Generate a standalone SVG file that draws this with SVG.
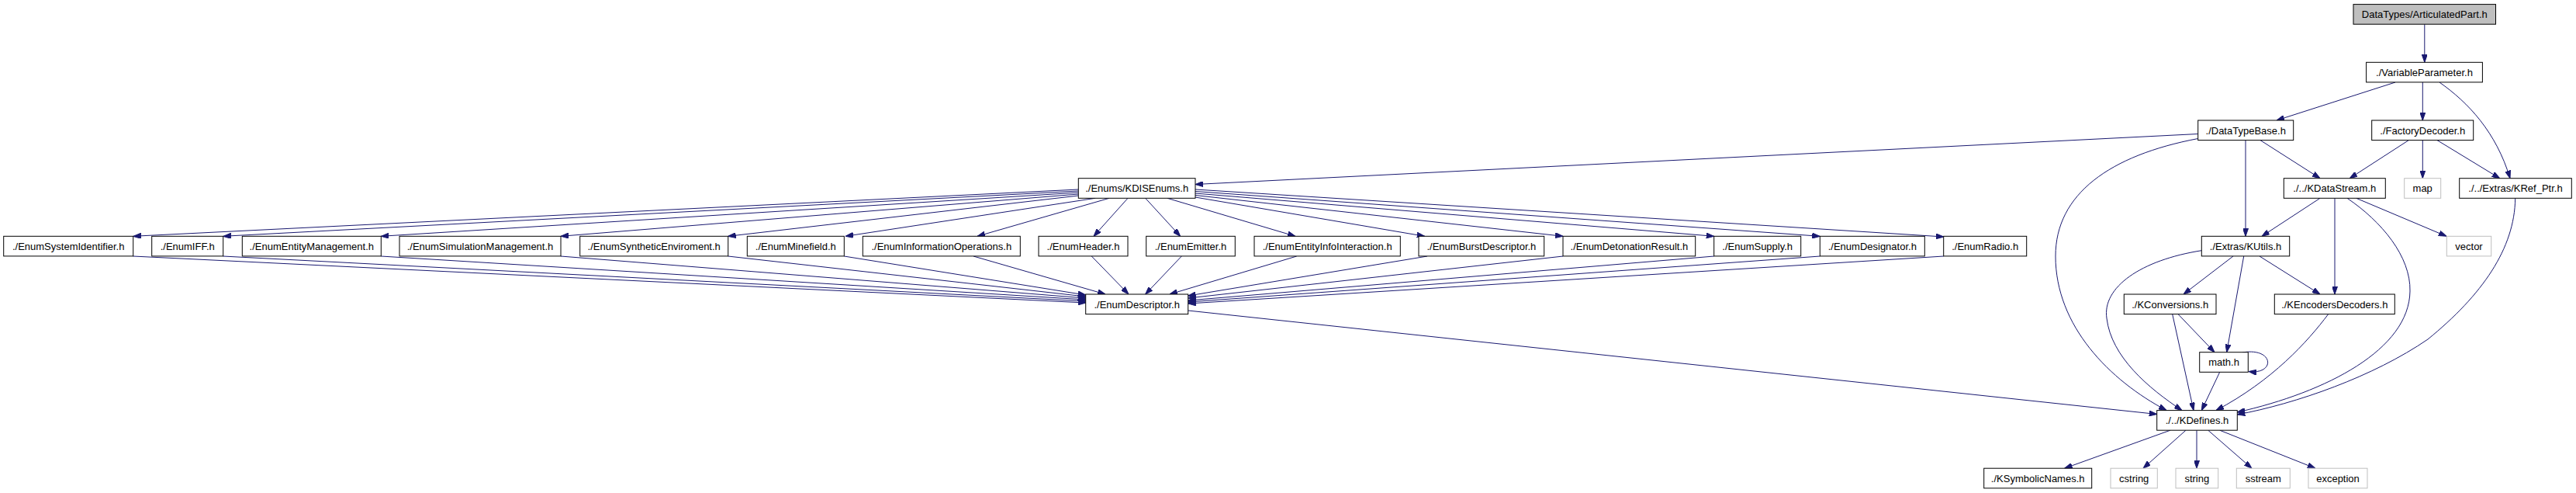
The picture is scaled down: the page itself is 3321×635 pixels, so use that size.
<svg xmlns="http://www.w3.org/2000/svg" width="3321" height="635" viewBox="0 0 3321 635">
<style>
.n rect{fill:#ffffff;stroke:#000000;stroke-width:1}
.n.root rect{fill:#bfbfbf}
.n.ext rect{stroke:#bfbfbf}
.n text{font-family:"Liberation Sans",Arial,sans-serif;font-size:13px;fill:#000000;text-anchor:middle}
#edges path{fill:none;stroke:#191970;stroke-width:1;marker-end:url(#ah)}
</style>
<defs>
<marker id="ah" markerWidth="10" markerHeight="7" refX="10" refY="3.5" orient="auto" markerUnits="userSpaceOnUse">
<path d="M0,0 L10,3.5 L0,7 z" fill="#191970" stroke="#191970" stroke-width="1"/>
</marker>
</defs>
<rect x="0" y="0" width="3321" height="635" fill="#ffffff"/>
<g id="edges">
<path d="M3125.8,31.2 L3125.8,80.3"/>
<path d="M3088,106 L2935,155"/>
<path d="M3123.3,106 L3123.3,155"/>
<path d="M3145,106 C3182,132 3218,170 3236,229.7"/>
<path d="M2833.7,172.5 L1541,237.5"/>
<path d="M2895,180.6 L2895,304.3"/>
<path d="M2914,180.6 L2991,229.7"/>
<path d="M2833.7,178.5 C2720,200 2650,250 2650,330 C2650,420 2720,490 2793,528.6"/>
<path d="M3105.3,180.6 L3029.3,229.7"/>
<path d="M3123.3,180.6 L3123.3,229.7"/>
<path d="M3142,180.6 L3222.7,229.7"/>
<path d="M2991,255.3 L2916,304.3"/>
<path d="M3010,255.3 L3010,379"/>
<path d="M3037.7,255.3 L3154,304.3"/>
<path d="M3026,255.3 C3070,285 3108,330 3107,375 C3106,450 3000,505 2884.3,531"/>
<path d="M3242.7,255.3 C3242,320 3200,380 3130,437 C3060,485 2960,520 2884.3,534"/>
<path d="M2879,330 L2815,379"/>
<path d="M2892.7,330 L2870.7,453.7"/>
<path d="M2913,330 L2991,379"/>
<path d="M2838.3,322.7 C2760,335 2710,370 2716,410 C2722,460 2770,500 2813,528.6"/>
<path d="M2808,404.6 L2855,453.7"/>
<path d="M2800.7,404.6 L2828,528.6"/>
<path d="M3001.7,404.6 C2975,440 2930,490 2857,528.6"/>
<path d="M2891,454 C2932,447 2934,483 2899,478.5"/>
<path d="M2861.7,479.3 L2838.3,528.6"/>
<path d="M2798,554.2 L2661.7,603.2"/>
<path d="M2818,554.2 L2763,603.2"/>
<path d="M2832,554.2 L2832,603.2"/>
<path d="M2846.7,554.2 L2903,603.2"/>
<path d="M2861.7,554.2 L2985,603.2"/>
<path d="M1531.7,400 L2780.7,533.5"/>
<path d="M1390.3,244 L171.7,304.3"/>
<path d="M1390.3,246 L287.7,304.3"/>
<path d="M1390.3,248 L491.3,304.3"/>
<path d="M1390.3,250 L723,304.3"/>
<path d="M1390.3,252 L938.7,304.3"/>
<path d="M1412,255.3 L1090,304.3"/>
<path d="M1430,255.3 L1260,304.3"/>
<path d="M1454,255.3 L1410,304.3"/>
<path d="M1476.7,255.3 L1521.7,304.3"/>
<path d="M1505,255.3 L1670,304.3"/>
<path d="M1541,254 L1836.7,304.3"/>
<path d="M1541,251.5 L2015,304.3"/>
<path d="M1541,249 L2209.7,304.3"/>
<path d="M1541,246.5 L2346.3,304.3"/>
<path d="M1541,244 L2505.7,305"/>
<path d="M171.7,330 L1399.7,390"/>
<path d="M287.7,330 L1399.7,388"/>
<path d="M491.3,330 L1399.7,386"/>
<path d="M723,330 L1399.7,384"/>
<path d="M938.7,330 L1399.7,382"/>
<path d="M1088.3,330 L1399.7,380"/>
<path d="M1255,330 L1425,379"/>
<path d="M1407.3,330 L1455,379"/>
<path d="M1523.3,330 L1476.7,379"/>
<path d="M1671.7,330 L1508,379"/>
<path d="M1840,330 L1531.7,381"/>
<path d="M2015,330 L1531.7,384"/>
<path d="M2209.7,330 L1531.7,387"/>
<path d="M2346.3,330 L1531.7,389"/>
<path d="M2505.7,330 L1531.7,391"/>
</g>
<g id="n_ArticulatedPart" class="n root"><rect x="3034" y="5.6" width="183.5" height="25.6"/><text x="3125.8" y="23.1">DataTypes/ArticulatedPart.h</text></g>
<g id="n_VariableParameter" class="n"><rect x="3050.6" y="80.3" width="149.8" height="25.6"/><text x="3125.5" y="97.8">./VariableParameter.h</text></g>
<g id="n_DataTypeBase" class="n"><rect x="2833.7" y="155" width="123" height="25.6"/><text x="2895.2" y="172.5">./DataTypeBase.h</text></g>
<g id="n_FactoryDecoder" class="n"><rect x="3057.7" y="155" width="131" height="25.6"/><text x="3123.2" y="172.5">./FactoryDecoder.h</text></g>
<g id="n_KDISEnums" class="n"><rect x="1390.3" y="229.7" width="150.7" height="25.6"/><text x="1465.7" y="247.2">./Enums/KDISEnums.h</text></g>
<g id="n_KDataStream" class="n"><rect x="2944.3" y="229.7" width="131" height="25.6"/><text x="3009.8" y="247.2">./../KDataStream.h</text></g>
<g id="n_map" class="n ext"><rect x="3099.7" y="229.7" width="47" height="25.6"/><text x="3123.2" y="247.2">map</text></g>
<g id="n_KRef_Ptr" class="n"><rect x="3170.7" y="229.7" width="144.6" height="25.6"/><text x="3243" y="247.2">./../Extras/KRef_Ptr.h</text></g>
<g id="n_EnumSystemIdentifier" class="n"><rect x="4.7" y="304.3" width="167" height="25.6"/><text x="88.2" y="321.8">./EnumSystemIdentifier.h</text></g>
<g id="n_EnumIFF" class="n"><rect x="195.7" y="304.3" width="92" height="25.6"/><text x="241.7" y="321.8">./EnumIFF.h</text></g>
<g id="n_EnumEntityManagement" class="n"><rect x="312.3" y="304.3" width="179" height="25.6"/><text x="401.8" y="321.8">./EnumEntityManagement.h</text></g>
<g id="n_EnumSimulationManagement" class="n"><rect x="515" y="304.3" width="208" height="25.6"/><text x="619" y="321.8">./EnumSimulationManagement.h</text></g>
<g id="n_EnumSyntheticEnviroment" class="n"><rect x="747.7" y="304.3" width="191" height="25.6"/><text x="843.2" y="321.8">./EnumSyntheticEnviroment.h</text></g>
<g id="n_EnumMinefield" class="n"><rect x="963.3" y="304.3" width="125" height="25.6"/><text x="1025.8" y="321.8">./EnumMinefield.h</text></g>
<g id="n_EnumInformationOperations" class="n"><rect x="1112.3" y="304.3" width="203" height="25.6"/><text x="1213.8" y="321.8">./EnumInformationOperations.h</text></g>
<g id="n_EnumHeader" class="n"><rect x="1339" y="304.3" width="115" height="25.6"/><text x="1396.5" y="321.8">./EnumHeader.h</text></g>
<g id="n_EnumEmitter" class="n"><rect x="1477.7" y="304.3" width="114.6" height="25.6"/><text x="1535" y="321.8">./EnumEmitter.h</text></g>
<g id="n_EnumEntityInfoInteraction" class="n"><rect x="1617" y="304.3" width="188.3" height="25.6"/><text x="1711.2" y="321.8">./EnumEntityInfoInteraction.h</text></g>
<g id="n_EnumBurstDescriptor" class="n"><rect x="1829" y="304.3" width="161.7" height="25.6"/><text x="1909.9" y="321.8">./EnumBurstDescriptor.h</text></g>
<g id="n_EnumDetonationResult" class="n"><rect x="2015" y="304.3" width="170.7" height="25.6"/><text x="2100.4" y="321.8">./EnumDetonationResult.h</text></g>
<g id="n_EnumSupply" class="n"><rect x="2209.7" y="304.3" width="112" height="25.6"/><text x="2265.7" y="321.8">./EnumSupply.h</text></g>
<g id="n_EnumDesignator" class="n"><rect x="2346.3" y="304.3" width="135" height="25.6"/><text x="2413.8" y="321.8">./EnumDesignator.h</text></g>
<g id="n_EnumRadio" class="n"><rect x="2505.7" y="304.3" width="107" height="25.6"/><text x="2559.2" y="321.8">./EnumRadio.h</text></g>
<g id="n_KUtils" class="n"><rect x="2838.3" y="304.3" width="113.4" height="25.6"/><text x="2895" y="321.8">./Extras/KUtils.h</text></g>
<g id="n_vector" class="n ext"><rect x="3154.3" y="304.3" width="57.4" height="25.6"/><text x="3183" y="321.8">vector</text></g>
<g id="n_EnumDescriptor" class="n"><rect x="1399.7" y="379" width="132" height="25.6"/><text x="1465.7" y="396.5">./EnumDescriptor.h</text></g>
<g id="n_KConversions" class="n"><rect x="2738.3" y="379" width="118.7" height="25.6"/><text x="2797.7" y="396.5">./KConversions.h</text></g>
<g id="n_KEncodersDecoders" class="n"><rect x="2932.3" y="379" width="155" height="25.6"/><text x="3009.8" y="396.5">./KEncodersDecoders.h</text></g>
<g id="n_math" class="n"><rect x="2835.7" y="453.7" width="62.6" height="25.6"/><text x="2867" y="471.2">math.h</text></g>
<g id="n_KDefines" class="n"><rect x="2780.7" y="528.6" width="103.6" height="25.6"/><text x="2832.5" y="546.1">./../KDefines.h</text></g>
<g id="n_KSymbolicNames" class="n"><rect x="2557.7" y="603.2" width="139" height="25.6"/><text x="2627.2" y="620.7">./KSymbolicNames.h</text></g>
<g id="n_cstring" class="n ext"><rect x="2721" y="603.2" width="60.3" height="25.6"/><text x="2751.2" y="620.7">cstring</text></g>
<g id="n_string" class="n ext"><rect x="2805" y="603.2" width="54.7" height="25.6"/><text x="2832.3" y="620.7">string</text></g>
<g id="n_sstream" class="n ext"><rect x="2883.3" y="603.2" width="69" height="25.6"/><text x="2917.8" y="620.7">sstream</text></g>
<g id="n_exception" class="n ext"><rect x="2976" y="603.2" width="76" height="25.6"/><text x="3014" y="620.7">exception</text></g>
</svg>
